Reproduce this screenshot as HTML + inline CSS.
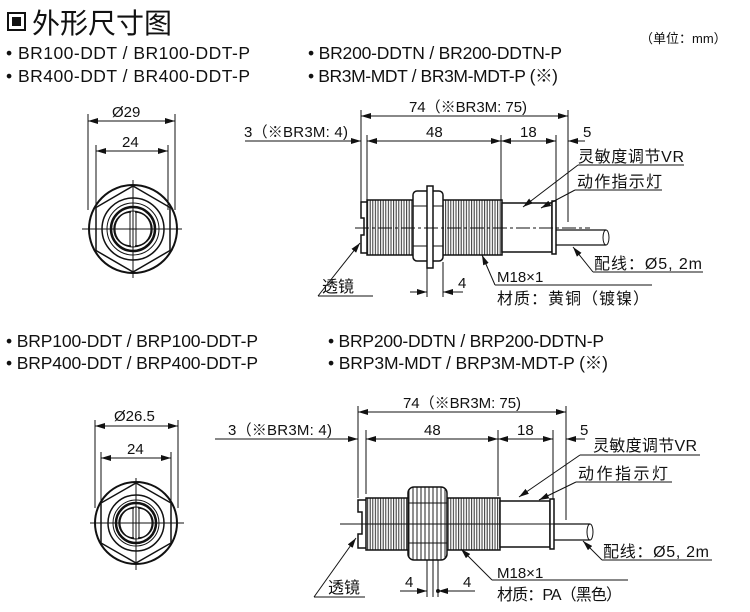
<!DOCTYPE html>
<html><head><meta charset="utf-8"><style>
html,body{margin:0;padding:0;background:#fff;}
svg{display:block;}
text{font-family:"Liberation Sans","Noto Sans CJK SC",sans-serif;fill:#111;}
</style></head><body>
<svg width="750" height="612" viewBox="0 0 750 612" xmlns="http://www.w3.org/2000/svg">
<defs>
<marker id="a" viewBox="0 0 10 6" refX="10" refY="3" markerWidth="10" markerHeight="6" orient="auto-start-reverse" markerUnits="userSpaceOnUse"><path d="M0,0L10,3L0,6z" fill="#111"/></marker>
<pattern id="th" width="2.6" height="10" patternUnits="userSpaceOnUse"><rect width="2.6" height="10" fill="#fff"/><line x1="1" y1="0" x2="1" y2="10" stroke="#333" stroke-width="1"/></pattern>
<pattern id="kn" width="4" height="10" patternUnits="userSpaceOnUse"><rect width="4" height="10" fill="#fff"/><line x1="1" y1="0" x2="1" y2="10" stroke="#222" stroke-width="1"/></pattern>
</defs>

<rect x="8" y="13" width="17" height="17" fill="none" stroke="#111" stroke-width="2"/>
<rect x="12" y="17" width="9" height="9" fill="#111"/>
<text x="32" y="33" font-size="28">外形尺寸图</text>
<text x="640" y="43" font-size="13">（单位：mm）</text>
<g font-size="17.5">
<text x="6" y="59" textLength="244">• BR100-DDT / BR100-DDT-P</text>
<text x="6" y="82" textLength="244">• BR400-DDT / BR400-DDT-P</text>
<text x="308" y="59" textLength="254">• BR200-DDTN / BR200-DDTN-P</text>
<text x="308" y="82" textLength="250">• BR3M-MDT / BR3M-MDT-P (※)</text>
<text x="6" y="347" textLength="252">• BRP100-DDT / BRP100-DDT-P</text>
<text x="6" y="369" textLength="252">• BRP400-DDT / BRP400-DDT-P</text>
<text x="328" y="347" textLength="276">• BRP200-DDTN / BRP200-DDTN-P</text>
<text x="328" y="369" textLength="280">• BRP3M-MDT / BRP3M-MDT-P (※)</text>
</g>

<g stroke="#111" fill="none" stroke-width="1">
<line x1="88" y1="114" x2="88" y2="210"/><line x1="175" y1="114" x2="175" y2="210"/>
<line x1="88" y1="121" x2="175" y2="121" marker-start="url(#a)" marker-end="url(#a)"/>
<line x1="96" y1="145" x2="96" y2="210"/><line x1="168" y1="145" x2="168" y2="210"/>
<line x1="96" y1="151" x2="168" y2="151" marker-start="url(#a)" marker-end="url(#a)"/>
<circle cx="133" cy="229" r="44" stroke-width="2"/>
<polygon points="133,186 170,207.5 170,250.5 133,272 96,250.5 96,207.5" stroke-width="1.5"/>
<circle cx="133" cy="229" r="31" stroke-width="1.5"/>
<circle cx="133" cy="229" r="26"/>
<circle cx="133" cy="229" r="22" stroke-width="2.5"/>
<circle cx="133" cy="229" r="18"/>
<path d="M131,212 A10,10 0 1,0 131,246 M135,212 A10,10 0 1,1 135,246" stroke-width="1.5"/>
<line x1="130" y1="212" x2="130" y2="246"/><line x1="136" y1="212" x2="136" y2="246"/>
<line x1="82" y1="229" x2="182" y2="229"/><line x1="133" y1="180" x2="133" y2="278"/>

<line x1="361" y1="110" x2="361" y2="205"/><line x1="367" y1="135" x2="367" y2="200"/>
<line x1="501" y1="135" x2="501" y2="200"/><line x1="556" y1="135" x2="556" y2="203"/>
<line x1="568" y1="110" x2="568" y2="222"/>
<line x1="361" y1="116" x2="568" y2="116" marker-start="url(#a)" marker-end="url(#a)"/>
<line x1="367" y1="141" x2="501" y2="141" marker-start="url(#a)" marker-end="url(#a)"/>
<line x1="501" y1="141" x2="556" y2="141" marker-start="url(#a)" marker-end="url(#a)"/>
<line x1="245" y1="141" x2="361" y2="141" marker-end="url(#a)"/>
<line x1="367" y1="141" x2="378" y2="141"/>
<line x1="585" y1="141" x2="568" y2="141" marker-end="url(#a)"/>
<rect x="367" y="200" width="135" height="55" fill="url(#th)" stroke-width="1.5"/>
<path d="M367,202 L361,202 L361,218 L364,218 L364,235 L361,235 L361,253 L367,253" stroke-width="1.5"/>
<rect x="413" y="191" width="30" height="70" rx="4" fill="#fff" stroke-width="1.5"/>
<line x1="413" y1="206" x2="443" y2="206"/><line x1="413" y1="246" x2="443" y2="246"/>
<rect x="427" y="186" width="6" height="82" fill="#fff" stroke-width="1.5"/>
<rect x="502" y="203" width="50" height="49" fill="#fff" stroke-width="1.5"/>
<rect x="552" y="201" width="4" height="53" fill="#fff" stroke-width="1.5"/>
<path d="M556,230 L606,230 M556,245 L606,245" stroke-width="1.3"/>
<ellipse cx="606" cy="237.5" rx="3" ry="7.5"/>
<line x1="355" y1="228" x2="590" y2="228" stroke-dasharray="14,3,3,3"/>
<line x1="523" y1="207" x2="578" y2="165" marker-start="url(#a)"/>
<line x1="578" y1="165" x2="684" y2="165"/>
<line x1="541" y1="208" x2="575" y2="190" marker-start="url(#a)"/>
<line x1="575" y1="190" x2="662" y2="190"/>
<line x1="573" y1="247" x2="593" y2="272" marker-start="url(#a)"/>
<line x1="593" y1="272" x2="703" y2="272"/>
<line x1="360" y1="243" x2="318" y2="296" marker-start="url(#a)"/>
<line x1="318" y1="296" x2="373" y2="296"/>
<line x1="482" y1="255" x2="495" y2="285" marker-start="url(#a)"/>
<line x1="495" y1="285" x2="652" y2="285"/>
<line x1="427" y1="262" x2="427" y2="297"/><line x1="443" y1="262" x2="443" y2="297"/>
<line x1="410" y1="292" x2="427" y2="292" marker-end="url(#a)"/>
<line x1="463" y1="292" x2="443" y2="292" marker-end="url(#a)"/>

<line x1="95" y1="420" x2="95" y2="508"/><line x1="178" y1="420" x2="178" y2="508"/>
<line x1="95" y1="426" x2="178" y2="426" marker-start="url(#a)" marker-end="url(#a)"/>
<line x1="101" y1="452" x2="101" y2="505"/><line x1="171" y1="452" x2="171" y2="505"/>
<line x1="101" y1="458" x2="171" y2="458" marker-start="url(#a)" marker-end="url(#a)"/>
<circle cx="136" cy="523" r="41" stroke-width="2"/>
<polygon points="136,483 171,503 171,543 136,563 101,543 101,503" stroke-width="1.5"/>
<circle cx="136" cy="523" r="28" stroke-width="1.5"/>
<circle cx="136" cy="523" r="23"/>
<circle cx="136" cy="523" r="20" stroke-width="2.5"/>
<circle cx="136" cy="523" r="16"/>
<path d="M134,508 A9,9 0 1,0 134,538 M138,508 A9,9 0 1,1 138,538" stroke-width="1.5"/>
<line x1="133" y1="507" x2="133" y2="539"/><line x1="139" y1="507" x2="139" y2="539"/>
<line x1="90" y1="523" x2="184" y2="523"/><line x1="136" y1="478" x2="136" y2="570"/>

<line x1="358" y1="406" x2="358" y2="498"/><line x1="366" y1="430" x2="366" y2="494"/>
<line x1="498" y1="430" x2="498" y2="496"/><line x1="553" y1="430" x2="553" y2="500"/>
<line x1="566" y1="406" x2="566" y2="520"/>
<line x1="358" y1="412" x2="566" y2="412" marker-start="url(#a)" marker-end="url(#a)"/>
<line x1="366" y1="439" x2="498" y2="439" marker-start="url(#a)" marker-end="url(#a)"/>
<line x1="498" y1="439" x2="553" y2="439" marker-start="url(#a)" marker-end="url(#a)"/>
<line x1="215" y1="439" x2="358" y2="439" marker-end="url(#a)"/>
<line x1="585" y1="439" x2="566" y2="439" marker-end="url(#a)"/>
<rect x="366" y="498" width="134" height="52" fill="url(#th)" stroke-width="1.5"/>
<path d="M366,500 L358,500 L358,512 L362,512 L362,534 L358,534 L358,548 L366,548" stroke-width="1.5"/>
<rect x="408" y="487" width="39" height="73" rx="6" fill="url(#kn)" stroke-width="1.5"/>
<line x1="408" y1="503" x2="447" y2="503"/><line x1="408" y1="543" x2="447" y2="543"/>
<rect x="500" y="501" width="50" height="46" fill="#fff" stroke-width="1.5"/>
<rect x="550" y="499" width="4" height="50" fill="#fff" stroke-width="1.5"/>
<path d="M554,524 L590,524 M554,540 L590,540" stroke-width="1.3"/>
<ellipse cx="590" cy="532" rx="3" ry="8"/>
<line x1="340" y1="524" x2="565" y2="524"/>
<line x1="519" y1="497" x2="580" y2="455" marker-start="url(#a)"/>
<line x1="580" y1="455" x2="700" y2="455"/>
<line x1="539" y1="500" x2="576" y2="482" marker-start="url(#a)"/>
<line x1="576" y1="482" x2="672" y2="482"/>
<line x1="583" y1="541" x2="602" y2="560" marker-start="url(#a)"/>
<line x1="602" y1="560" x2="712" y2="560"/>
<line x1="356" y1="538" x2="314" y2="597" marker-start="url(#a)"/>
<line x1="314" y1="597" x2="365" y2="597"/>
<line x1="461" y1="549" x2="492" y2="580" marker-start="url(#a)"/>
<line x1="492" y1="580" x2="628" y2="580"/>
<line x1="427" y1="560" x2="427" y2="597"/><line x1="433" y1="560" x2="433" y2="597"/><line x1="438" y1="560" x2="438" y2="597"/>
<line x1="400" y1="591" x2="427" y2="591" marker-end="url(#a)"/>
<line x1="475" y1="591" x2="438" y2="591" marker-end="url(#a)"/>
<circle cx="438" cy="591" r="1.5" fill="#111"/>
</g>

<g font-size="15">
<text x="112" y="117">Ø29</text>
<text x="122" y="147">24</text>
<text x="244" y="137" textLength="104">3（※BR3M: 4)</text>
<text x="409" y="112" textLength="118">74（※BR3M: 75)</text>
<text x="426" y="137">48</text>
<text x="520" y="137">18</text>
<text x="583" y="137">5</text>
<text x="578" y="162" font-size="16" textLength="106">灵敏度调节VR</text>
<text x="577" y="187" font-size="16" textLength="85">动作指示灯</text>
<text x="594" y="269" font-size="16" textLength="108">配线：Ø5, 2m</text>
<text x="322" y="292" font-size="16">透镜</text>
<text x="497" y="282">M18×1</text>
<text x="497" y="304" font-size="16" textLength="152">材质：黄铜（镀镍）</text>
<text x="458" y="288">4</text>

<text x="114" y="421">Ø26.5</text>
<text x="127" y="454">24</text>
<text x="228" y="435" textLength="104">3（※BR3M: 4)</text>
<text x="403" y="408" textLength="118">74（※BR3M: 75)</text>
<text x="424" y="435">48</text>
<text x="517" y="435">18</text>
<text x="580" y="435">5</text>
<text x="593" y="451" font-size="16" textLength="104">灵敏度调节VR</text>
<text x="578" y="479" font-size="16" textLength="90">动作指示灯</text>
<text x="603" y="557" font-size="16" textLength="106">配线：Ø5, 2m</text>
<text x="328" y="593" font-size="16">透镜</text>
<text x="497" y="578">M18×1</text>
<text x="497" y="600" font-size="16" textLength="125">材质：PA（黑色）</text>
<text x="405" y="587">4</text>
<text x="463" y="587">4</text>
</g>
</svg>
</body></html>
